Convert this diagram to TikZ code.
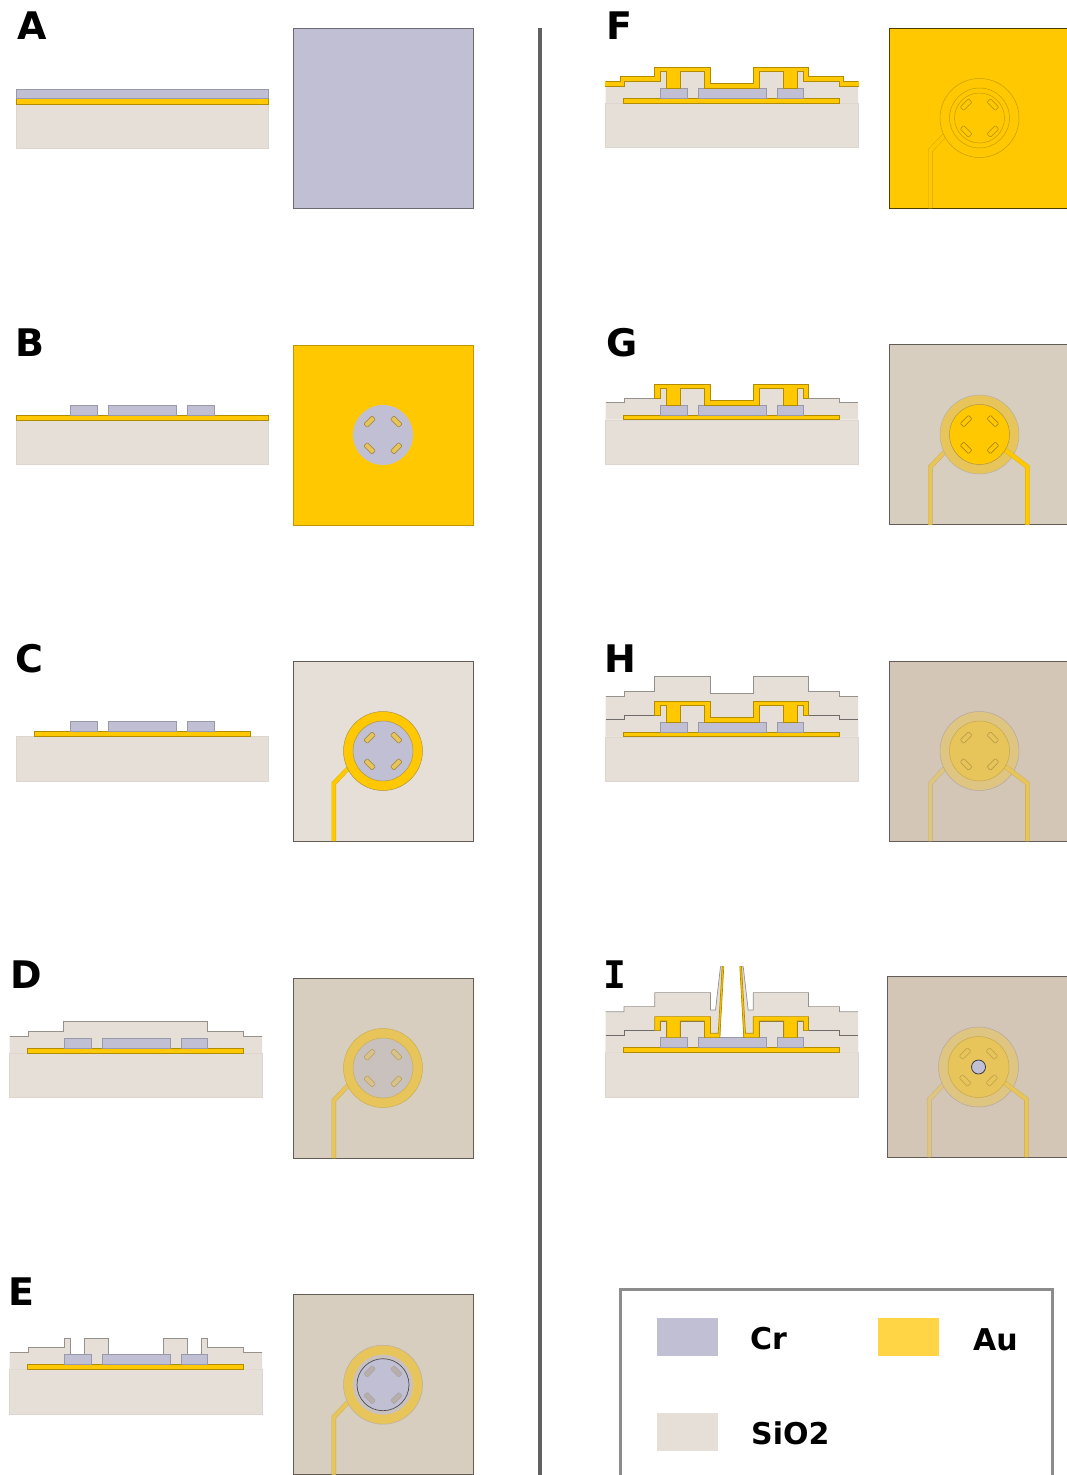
\documentclass[tikz,border=0pt]{standalone}
\usepackage{fontspec}
\setmainfont{DejaVu Sans}
\newfontfamily\slabfont{DejaVu Sans Mono}
\usepackage{xcolor}

\definecolor{crcol}{HTML}{C1BFD3}
\definecolor{aucol}{HTML}{FFC800}
\definecolor{aumid}{HTML}{E8C55A}
\definecolor{aupale}{HTML}{DEC582}
\definecolor{swatchau}{HTML}{FFD545}
\definecolor{sicol}{HTML}{E5DFD8}
\definecolor{bgone}{HTML}{D7CEC0}
\definecolor{bgtwo}{HTML}{D3C6B7}
\definecolor{crdim}{HTML}{C9C1BE}

% cross-section layers, origin at the left end of the substrate top
\newcommand{\substrate}{\draw[sub] (0,0) rectangle (252.5,44.5);}
\newcommand{\baseau}{\draw[gold] (18.2,-4.7) rectangle (234,0);}
\newcommand{\crpads}{
  \draw[cr] (54.5,-14.7) rectangle (81.5,-4.7);
  \draw[cr] (92.5,-14.7) rectangle (160.5,-4.7);
  \draw[cr] (171.5,-14.7) rectangle (198,-4.7);
}
\newcommand{\oxidelayer}[2][oxide]{
  \fill[sicol] (0,0) -- #2 -- (252.5,0) -- cycle;
  \draw[#1] #2;
}
\newcommand{\oxideone}[1][oxide]{
  \oxidelayer[#1]{(0,-17) -- (18.5,-17) -- (18.5,-21.7) -- (54.7,-21.7) -- (54.7,-31.3) -- (61.3,-31.3) -- (61.3,-14.7) -- (74.7,-14.7) -- (74.7,-31.3) -- (99,-31.3) -- (99,-14.7) -- (153.7,-14.7) -- (153.7,-31.3) -- (178.3,-31.3) -- (178.3,-14.7) -- (191.7,-14.7) -- (191.7,-31.3) -- (198,-31.3) -- (198,-21.7) -- (234,-21.7) -- (234,-17) -- (252.5,-17)}
}
\newcommand{\aupatch}{
  \draw[gold] (49.3,-21.7) -- (49.3,-35.7) -- (105,-35.7) -- (105,-19.7) -- (147.7,-19.7) -- (147.7,-35.7) -- (203,-35.7) -- (203,-21.7) -- (198,-21.7) -- (198,-31.3) -- (191.7,-31.3) -- (191.7,-14.7) -- (178.3,-14.7) -- (178.3,-31.3) -- (153.7,-31.3) -- (153.7,-14.7) -- (99,-14.7) -- (99,-31.3) -- (74.7,-31.3) -- (74.7,-14.7) -- (61.3,-14.7) -- (61.3,-31.3) -- (54.7,-31.3) -- (54.7,-21.7) -- cycle;
}

% top views, origin at the centre of the square
\newcommand{\leadleft}[2][88]{\draw[leadline,draw=#2!#1!black,double=#2] (-35,17.5) -- (-49.2,32.4) -- (-49.2,90);}
\newcommand{\leadright}[1]{\draw[leadline,draw=#1!88!black,double=#1] (26,15.7) -- (47.9,32.3) -- (47.9,90);}
\newcommand{\topslots}[2]{
  \foreach \a in {45,135,225,315}
    \draw[rotate=\a,draw=#1,fill=#2,line width=0.5pt,rounded corners=0.8pt] (16.4,-5.8) rectangle (21.4,5.8);
}

\begin{document}
\begin{tikzpicture}[
  x=1pt, y=-1pt,
  sub/.style={fill=sicol, draw=sicol!96!black, line width=0.4pt},
  oxide/.style={draw=black!35!sicol, line width=0.7pt},
  oxidedark/.style={draw=black!52!sicol, line width=0.7pt},
  gold/.style={fill=aucol, draw=black!30!aucol, line width=0.7pt},
  cr/.style={fill=crcol, draw=black!20!crcol, line width=0.7pt},
  sq/.style={draw=black!55!bgone, line width=0.7pt},
  leadline/.style={line width=0.4pt, double distance=3.8pt, miter limit=10},
  disc/.style={draw=black!25!aumid, line width=0.5pt},
  letter/.style={anchor=base west, inner sep=0pt, font=\fontsize{38}{40}\selectfont\bfseries},
  legendtext/.style={anchor=base west, inner sep=0pt, font=\fontsize{30}{32}\selectfont\bfseries}
]
\useasboundingbox (0,0) rectangle (1067,1475);

\draw[line width=4pt, draw=black!62] (539.5,28) -- (539.5,1480);

\node[letter] (lblA) at (17,39.5) {A};
\node[letter] (lblB) at (15,356.5) {B};
\node[letter] (lblC) at (15,672.5) {C};
\node[letter] (lblD) at (10,988.5) {D};
\node[letter] (lblE) at (8,1305.5) {E};
\node[letter] (lblF) at (606,39.5) {F};
\node[letter] (lblG) at (606,356.5) {G};
\node[letter] (lblH) at (604,672.5) {H};
\node[letter] (lblI) at (603.5,988.5) {\slabfont I};

% A
\begin{scope}[shift={(16,104)}]
  \substrate
  \draw[gold] (0,-5.5) rectangle (252.5,0);
  \draw[cr] (0,-15) rectangle (252.5,-5.5);
\end{scope}
\begin{scope}[shift={(383,118)}]
  \draw[sq,draw=black!45!crcol,fill=crcol] (-90,-90) rectangle (90,90);
\end{scope}

% B
\begin{scope}[shift={(16,420)}]
  \substrate
  \draw[gold] (0,-5) rectangle (252.5,0);
  \crpads
\end{scope}
\begin{scope}[shift={(383,435)}]
  \draw[sq,draw=black!25!aucol,fill=aucol] (-90,-90) rectangle (90,90);
  \fill[crcol] (0,0) circle (30);
  \topslots{black!35!aumid}{aumid}
\end{scope}

% C
\begin{scope}[shift={(16,736.5)}]
  \substrate
  \baseau
  \crpads
\end{scope}
\begin{scope}[shift={(383,751)}]
  \draw[sq,fill=sicol] (-90,-90) rectangle (90,90);
  \leadleft{aucol}
  \draw[disc,fill=aucol] (0,0) circle (39.5);
  \draw[disc,fill=crcol] (0,0) circle (30);
  \topslots{black!35!aumid}{aumid}
\end{scope}

% D
\begin{scope}[shift={(9.5,1053)}]
  \substrate
  \oxidelayer{(0,-17) -- (18.5,-17) -- (18.5,-21.7) -- (54,-21.7) -- (54,-31.3) -- (198,-31.3) -- (198,-21.7) -- (234,-21.7) -- (234,-17) -- (252.5,-17)}
  \baseau
  \crpads
\end{scope}
\begin{scope}[shift={(383,1068)}]
  \draw[sq,fill=bgone] (-90,-90) rectangle (90,90);
  \leadleft{aumid}
  \draw[disc,draw=aumid!88!black,fill=aumid] (0,0) circle (39.5);
  \draw[disc,draw=aumid!88!black,fill=crdim] (0,0) circle (30);
  \topslots{black!20!aumid}{crdim!55!aumid}
\end{scope}

% E
\begin{scope}[shift={(9.5,1369.3)}]
  \substrate
  \oxideone
  \baseau
  \crpads
\end{scope}
\begin{scope}[shift={(383,1384.7)}]
  \draw[sq,fill=bgone] (-90,-90) rectangle (90,90);
  \leadleft{aumid}
  \draw[disc,draw=bgone!85!black,fill=aumid] (0,0) circle (39.5);
  \fill[crdim] (0,0) circle (30);
  \draw[draw=black!60!crcol,fill=crcol,line width=0.7pt] (0,0) circle (26);
  \topslots{black!15!crdim}{crdim!90!black}
\end{scope}

% F
\begin{scope}[shift={(605.5,103)}]
  \substrate
  \oxideone
  \baseau
  \crpads
  \draw[gold] (0,-17) -- (0,-22) -- (15,-22) -- (15,-26.3) -- (49.3,-26.3) -- (49.3,-35.7) -- (105,-35.7) -- (105,-19.7) -- (147.7,-19.7) -- (147.7,-35.7) -- (203,-35.7) -- (203,-26.3) -- (237.7,-26.3) -- (237.7,-22) -- (252.5,-22) -- (252.5,-17) -- (234,-17) -- (234,-21.7) -- (198,-21.7) -- (198,-31.3) -- (191.7,-31.3) -- (191.7,-14.7) -- (178.3,-14.7) -- (178.3,-31.3) -- (153.7,-31.3) -- (153.7,-14.7) -- (99,-14.7) -- (99,-31.3) -- (74.7,-31.3) -- (74.7,-14.7) -- (61.3,-14.7) -- (61.3,-31.3) -- (54.7,-31.3) -- (54.7,-21.7) -- (18.5,-21.7) -- (18.5,-17) -- cycle;
  % no edge at the two open ends of the layer
  \draw[aucol,line width=1pt] (0,-17.4) -- (0,-21.6);
  \draw[aucol,line width=1pt] (252.5,-17.4) -- (252.5,-21.6);
\end{scope}
\begin{scope}[shift={(979.5,118)}]
  \draw[sq,draw=black!70!aucol,fill=aucol] (-90,-90) rectangle (90,90);
  \leadleft[80]{aucol}
  \draw[disc,draw=black!22!aucol,fill=aucol] (0,0) circle (39.5);
  \draw[disc,draw=black!22!aucol,fill=aucol] (0,0) circle (30);
  \draw[disc,draw=black!22!aucol,fill=aucol] (0,0) circle (25);
  \topslots{black!30!aucol}{aucol}
\end{scope}

% G
\begin{scope}[shift={(605.5,419.7)}]
  \substrate
  \oxideone
  \baseau
  \crpads
  \aupatch
\end{scope}
\begin{scope}[shift={(979.5,434.5)}]
  \draw[sq,fill=bgone] (-90,-90) rectangle (90,90);
  \leadleft{aumid}
  \draw[disc,draw=bgone!85!black,fill=aumid] (0,0) circle (39.5);
  \leadright{aucol}
  \draw[disc,fill=aucol] (0,0) circle (30);
  \topslots{black!40!aucol}{aucol}
\end{scope}

% H
\begin{scope}[shift={(605.5,736.7)}]
  \substrate
  \oxidelayer{(0,-40.7) -- (18.5,-40.7) -- (18.5,-45.7) -- (49.3,-45.7) -- (49.3,-60) -- (105,-60) -- (105,-43.3) -- (147.7,-43.3) -- (147.7,-60) -- (203,-60) -- (203,-45.7) -- (234,-45.7) -- (234,-40.7) -- (252.5,-40.7)}
  \oxideone[oxidedark]
  \baseau
  \crpads
  \aupatch
\end{scope}
\begin{scope}[shift={(979.5,751)}]
  \draw[sq,fill=bgtwo] (-90,-90) rectangle (90,90);
  \leadleft{aupale}
  \draw[disc,draw=bgtwo!85!black,fill=aupale] (0,0) circle (39.5);
  \leadright{aumid}
  \draw[disc,draw=aumid!85!black,fill=aumid] (0,0) circle (30);
  \topslots{black!25!aumid}{aumid}
\end{scope}

% I
\begin{scope}[shift={(605.5,1052.3)}]
  \substrate
  \oxidelayer{(0,-40.5) -- (18.5,-40.5) -- (18.5,-45.7) -- (49.3,-45.7) -- (49.3,-59.7) -- (105,-59.7) -- (105,-42.3) -- (110,-42.3) -- (115,-85.7) -- (116.7,-85.7) -- (114.3,-14.7) -- (138.3,-14.7) -- (136,-85.7) -- (137.7,-85.7) -- (142.7,-42.3) -- (147.7,-42.3) -- (147.7,-59.7) -- (203,-59.7) -- (203,-45.7) -- (234,-45.7) -- (234,-40.5) -- (252.5,-40.5)}
  \oxideone[oxidedark]
  \baseau
  \crpads
  \draw[gold] (49.3,-21.7) -- (49.3,-35.7) -- (105,-35.7) -- (105,-19) -- (112.7,-19) -- (116.7,-85.7) -- (118.3,-85.7) -- (114.3,-14.7) -- (99,-14.7) -- (99,-31.3) -- (74.7,-31.3) -- (74.7,-14.7) -- (61.3,-14.7) -- (61.3,-31.3) -- (54.7,-31.3) -- (54.7,-21.7) -- cycle;
  \draw[gold] (203,-21.7) -- (203,-35.7) -- (147.7,-35.7) -- (147.7,-19) -- (140,-19) -- (136,-85.7) -- (134.3,-85.7) -- (138.3,-14.7) -- (153.7,-14.7) -- (153.7,-31.3) -- (178.3,-31.3) -- (178.3,-14.7) -- (191.7,-14.7) -- (191.7,-31.3) -- (198,-31.3) -- (198,-21.7) -- cycle;
\end{scope}
\begin{scope}[shift={(978.5,1067)}]
  \draw[sq,fill=bgtwo] (-91,-91) rectangle (91,90.5);
  \leadleft{aupale}
  \draw[disc,draw=bgtwo!85!black,fill=aupale] (0,0) circle (40);
  \leadright{aumid}
  \draw[disc,draw=aumid!85!black,fill=aumid] (0,0) circle (30.5);
  \topslots{black!20!aumid}{aumid}
  \draw[draw=black!70!crcol,fill=crcol,line width=0.8pt] (0,0) circle (7);
\end{scope}

% legend
\draw[line width=3pt, draw=black!45] (620,1480) -- (620,1289) -- (1052,1289) -- (1052,1480);
\fill[crcol] (657,1318) rectangle (718,1356);
\fill[swatchau] (878,1318) rectangle (939,1356);
\fill[sicol] (657,1413) rectangle (718,1451);
\node[legendtext] (lblCr) at (750,1349) {Cr};
\node[legendtext] (lblAu) at (973,1350) {Au};
\node[legendtext] (lblSi) at (751,1444) {SiO2};

\end{tikzpicture}
\end{document}
